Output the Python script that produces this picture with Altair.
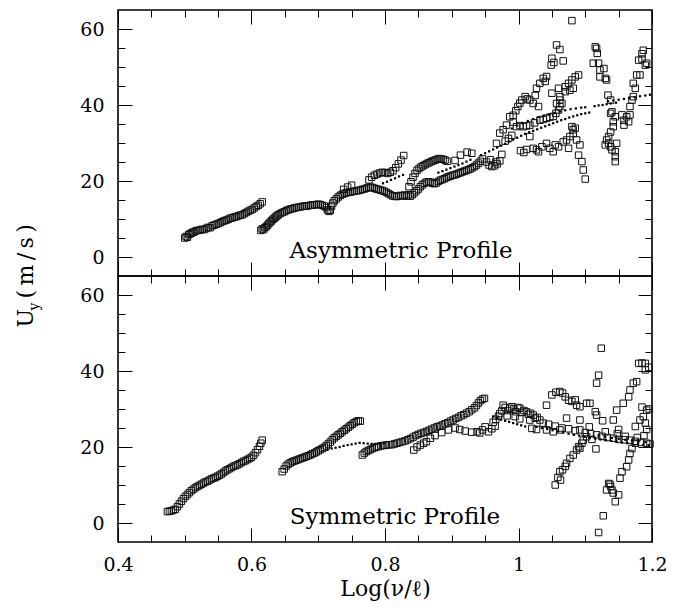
import altair as alt
import pandas as pd

# ---------------- data ----------------
# x = Log(nu/l), y = U_y (m/s)

# upper panel: Asymmetric Profile, open squares
top_sq_a = [(0.500,5.0),(0.502,5.4),(0.504,5.2),(0.506,5.9),(0.508,6.1),(0.510,6.3),(0.512,6.5),(0.514,6.6),
            (0.517,6.9),(0.520,7.0),(0.523,7.1),(0.526,7.3),(0.529,7.2),(0.532,7.5),(0.535,7.8),(0.538,7.7),
            (0.541,8.2),(0.544,8.4),(0.547,8.6),(0.550,8.8),(0.553,9.0),(0.556,9.3),(0.559,9.5),(0.562,9.7),
            (0.565,9.9),(0.568,10.2),(0.571,10.3),(0.574,10.5),(0.577,10.6),(0.580,10.8),(0.583,11.0),(0.586,11.1),
            (0.589,11.4),(0.592,11.7),(0.595,12.0),(0.598,12.3),(0.601,12.5),(0.604,12.9),(0.607,13.3),(0.610,13.6),
            (0.613,14.0),(0.616,14.5)]
top_sq_b = [(0.614,7.0),(0.616,7.4),(0.618,7.2),(0.620,7.7),(0.622,8.0),(0.624,8.4),(0.626,8.8),(0.628,9.2),
            (0.630,9.5),(0.632,9.9),(0.634,10.2),(0.636,10.5),(0.638,10.8),(0.640,11.1),(0.643,11.4),(0.646,11.7),
            (0.649,11.9),(0.652,12.2),(0.655,12.4),(0.658,12.6),(0.661,12.7),(0.664,12.9),(0.667,13.0),(0.670,13.1),
            (0.673,13.2),(0.676,13.3),(0.679,13.4),(0.682,13.4),(0.685,13.5),(0.688,13.6),(0.691,13.7),(0.694,13.7),
            (0.697,13.8),(0.700,13.9),(0.703,13.8),(0.706,13.6),(0.709,13.4),(0.712,13.0),(0.714,12.4),(0.716,12.0),
            (0.718,12.3),(0.720,13.4),(0.722,14.2),(0.724,14.8),(0.727,15.3),(0.730,15.8),(0.733,16.2),(0.736,16.5),
            (0.739,16.7),(0.742,16.9),(0.745,17.0),(0.748,17.1),(0.751,17.2),(0.754,17.3),(0.757,17.4),(0.760,17.5),
            (0.763,17.6),(0.766,17.8),(0.769,17.9),(0.772,18.1),(0.775,18.3),(0.778,18.4),(0.781,18.3),(0.784,18.1),
            (0.787,17.9),(0.790,17.8),(0.793,17.6),(0.796,17.5),(0.799,17.3),(0.802,17.0),(0.805,16.7),(0.808,16.4),
            (0.811,16.1),(0.814,16.0),(0.817,15.9),(0.820,16.0),(0.823,16.2),(0.826,16.1),(0.829,16.3),(0.832,16.0),
            (0.835,16.4),(0.738,17.8),(0.744,18.4),(0.750,18.9)]
top_sq_c = [(0.776,20.3),(0.780,21.0),(0.784,21.5),(0.788,21.8),(0.792,22.1),(0.796,22.3),(0.800,22.2),
            (0.804,22.0),(0.808,22.3),(0.812,22.7),(0.816,23.5),(0.820,24.5),(0.824,25.5),(0.828,26.7)]
top_sq_d = [(0.836,18.5),(0.839,19.8),(0.842,21.0),(0.845,22.0),(0.848,22.8),(0.851,23.3),(0.854,23.7),(0.857,24.0),
            (0.860,24.3),(0.863,24.6),(0.866,24.8),(0.869,25.1),(0.872,25.3),(0.875,25.5),(0.878,25.7),(0.881,25.9),
            (0.884,25.8),(0.887,25.7),(0.890,25.5),(0.893,25.2),
            (0.838,16.0),(0.841,16.4),(0.844,16.9),(0.847,17.4),(0.850,17.9),(0.853,18.5),(0.856,19.0),(0.859,19.4),
            (0.862,19.7),(0.865,19.8),(0.868,19.7),(0.871,19.4),(0.874,19.3),(0.877,19.5),(0.880,19.9),(0.883,20.2),
            (0.886,20.4),(0.889,20.6),(0.892,20.9),(0.895,21.1),(0.898,21.3),(0.901,21.5),(0.904,21.6),(0.907,21.8),
            (0.910,22.0),(0.913,22.2),(0.916,22.4),(0.919,22.6),(0.922,22.8),(0.925,23.0),(0.928,23.2),(0.931,23.5),
            (0.934,23.8),(0.937,24.2),(0.940,24.7),(0.943,25.2),(0.946,25.8),
            (0.905,25.4),(0.913,26.8),(0.923,27.6),(0.930,27.3),(0.952,25.0),(0.956,24.2),(0.960,23.8),(0.964,24.0),
            (0.968,24.5),(0.972,25.3),(0.958,25.6),(0.966,25.0),(0.975,27.0)]
top_sq_e = [(0.967,29.9),(0.972,32.6),(0.977,33.5),(0.982,34.7),(0.987,36.9),(0.992,37.3),(0.996,38.5),(0.999,39.6),
            (1.002,40.5),(1.005,41.3),(1.010,42.2),(1.013,41.6),(1.017,41.3),(1.022,40.4),(1.030,39.6),(1.025,42.5),
            (1.027,44.4),(1.032,45.7),(1.037,47.0),(1.042,47.5),(1.040,46.2),(1.049,50.5),(1.050,52.3),(1.057,55.8),
            (1.062,54.6),(1.067,51.6),(1.053,51.2),
            (0.992,35.5),(0.997,34.3),(1.002,34.6),(1.007,34.3),(1.012,34.5),(1.017,34.7),(1.024,35.3),(1.032,36.0),
            (1.037,36.2),(1.042,36.5),(1.047,36.8),(1.052,37.0),(1.056,37.8),(1.060,38.7),(1.062,39.6),(1.065,40.4),
            (1.057,40.4),(1.062,42.2),(1.050,43.1),
            (0.980,30.5),(0.985,31.2),(0.990,32.0),(1.017,31.7),(1.022,28.6),(1.027,28.2),(1.030,27.7),(1.035,29.0),
            (1.042,29.9),(1.047,28.6),(1.052,27.7),(1.055,29.5),(1.060,29.0),(1.067,30.3),(1.072,30.8),(1.075,28.6),
            (1.077,31.7),(1.082,32.5),(1.085,33.9),(1.087,30.8),(1.092,29.5),(1.090,26.8),(1.095,25.1),(1.097,22.9),
            (1.100,20.5),(1.082,33.5),(1.080,34.3),(1.003,28.0),(1.008,27.5),(1.012,28.3),
            (1.060,44.4),(1.070,44.8),(1.075,45.7),(1.080,46.6),(1.085,47.4),(1.090,47.9),(1.077,43.9),(1.082,44.4),
            (1.070,43.5),(1.062,41.3),(1.080,62.2)]
top_sq_f = [(1.115,55.3),(1.117,54.9),(1.118,53.6),(1.112,51.0),(1.120,51.0),(1.122,49.2),(1.128,49.6),(1.122,47.4),
            (1.130,47.0),(1.132,46.6),(1.134,42.6),(1.138,41.3),(1.140,38.2),(1.138,37.8),(1.145,36.9),(1.142,35.6),
            (1.142,34.3),(1.138,32.9),(1.135,31.7),(1.132,30.8),(1.130,29.5),(1.138,29.0),(1.140,28.2),(1.145,27.7),
            (1.147,29.9),(1.145,26.4),(1.145,25.1),(1.135,29.9),
            (1.155,37.4),(1.158,36.0),(1.162,36.9),(1.165,35.6),(1.158,34.7),(1.167,37.4),(1.167,39.6),(1.170,41.3),
            (1.172,42.2),(1.172,45.7),(1.177,47.9),(1.182,47.9),(1.180,51.8),(1.185,52.1),(1.187,54.4),(1.185,53.5),
            (1.190,50.5),(1.192,51.0),(1.175,44.4)]
# upper panel: small dots
top_dots = [(0.797,19.4),(0.803,19.8),(0.809,20.3),(0.815,20.7),(0.821,21.2),(0.827,21.6),
            (0.880,22.2),(0.886,22.6),(0.892,23.0),(0.898,23.4),(0.904,23.8),(0.910,24.2),(0.916,24.6),(0.922,25.1),
            (0.928,25.6),
            (0.944,26.8),(0.950,27.3),(0.956,27.8),(0.962,28.3),(0.968,28.8),(0.974,29.3),(0.980,29.8),(0.986,30.4),
            (0.992,30.9),(0.998,31.4),(1.004,31.9),(1.010,32.4),(1.016,32.8),(1.022,33.2),(1.028,33.6),(1.034,34.0),
            (1.040,34.4),(1.046,34.8),(1.052,35.2),(1.058,35.6),(1.064,36.0),(1.070,36.3),(1.076,36.7),(1.082,37.0),
            (1.088,37.3),(1.094,37.6),(1.100,37.8),(1.106,38.0),
            (0.990,33.8),(0.998,34.6),(1.006,35.2),(1.014,35.8),(1.022,36.3),(1.030,36.8),(1.038,37.2),(1.046,37.5),
            (1.054,37.9),(1.062,38.3),(1.070,38.6),(1.078,38.9),(1.086,39.1),(1.094,39.3),(1.100,39.4),
            (1.114,39.7),(1.120,39.9),(1.126,40.0),(1.132,40.2),(1.138,40.4),(1.146,40.6),
            (1.134,41.0),(1.142,41.2),(1.150,41.4),(1.158,41.6),(1.166,41.8),(1.174,42.1),(1.182,42.3),(1.190,42.5),
            (1.197,42.7)]

# lower panel: Symmetric Profile, open squares
bot_sq_a = [(0.474,3.0),(0.477,3.1),(0.480,3.2),(0.483,3.4),(0.486,3.6),(0.489,4.3),(0.492,5.0),(0.495,5.7),
            (0.498,6.4),(0.501,7.0),(0.504,7.5),(0.507,8.0),(0.510,8.5),(0.513,8.9),(0.516,9.3),(0.519,9.6),
            (0.522,9.9),(0.525,10.2),(0.528,10.5),(0.531,10.8),(0.534,11.0),(0.537,11.3),(0.540,11.6),(0.543,11.8),
            (0.546,12.0),(0.549,12.3),(0.552,12.6),(0.555,12.9),(0.558,13.3),(0.561,13.7),(0.564,14.0),(0.567,14.3),
            (0.570,14.6),(0.573,14.9),(0.576,15.1),(0.579,15.3),(0.582,15.6),(0.585,15.9),(0.588,16.2),(0.591,16.4),
            (0.594,16.7),(0.597,17.0),(0.600,17.3),(0.603,17.8),(0.606,18.5),(0.609,19.3),(0.612,20.2),(0.614,21.0),
            (0.616,21.8)]
bot_sq_b = [(0.646,13.5),(0.649,14.2),(0.652,15.0),(0.655,15.5),(0.658,15.8),(0.661,16.1),(0.664,16.3),(0.667,16.5),
            (0.670,16.7),(0.673,16.9),(0.676,17.1),(0.679,17.3),(0.682,17.5),(0.685,17.7),(0.688,17.9),(0.691,18.2),
            (0.694,18.4),(0.697,18.7),(0.700,19.0),(0.703,19.3),(0.706,19.6),(0.709,19.9),(0.712,20.3),(0.715,20.8),
            (0.718,21.3),(0.721,21.9),(0.724,22.4),(0.727,22.8),(0.730,23.2),(0.733,23.6),(0.736,24.0),(0.739,24.4),
            (0.742,24.8),(0.745,25.2),(0.748,25.6),(0.751,26.0),(0.754,26.4),(0.757,26.7),(0.760,26.9),(0.763,26.8)]
bot_sq_c = [(0.766,17.9),(0.769,18.4),(0.772,18.8),(0.775,19.1),(0.778,19.3),(0.781,19.6),(0.784,19.8),(0.787,20.0),
            (0.790,20.1),(0.794,20.3),(0.798,20.4),(0.802,20.5),(0.806,20.6),(0.810,20.6),(0.814,20.8),(0.818,21.0),
            (0.822,21.2),(0.826,21.4),(0.830,21.6),(0.834,21.9),(0.838,22.2),(0.842,22.6),(0.846,23.0),(0.850,23.3),
            (0.854,23.6),(0.858,23.8),(0.862,24.1),(0.866,24.4),(0.870,24.7),(0.874,25.0),(0.878,25.3),(0.882,25.5),
            (0.886,25.8),(0.890,26.1),(0.894,26.4),(0.898,26.8),(0.902,27.1),(0.906,27.5),(0.910,27.8),(0.914,28.2),
            (0.918,28.5),(0.922,28.9),(0.926,29.3),(0.930,29.8),(0.934,30.3),(0.937,30.9),(0.940,31.6),(0.943,32.2),
            (0.946,32.6),(0.949,32.8),
            (0.843,19.2),(0.848,20.0),(0.853,20.5),(0.858,21.0),(0.862,21.4),(0.868,22.3),(0.875,23.0),(0.885,23.8),
            (0.895,24.5),(0.905,25.0),(0.912,24.6),(0.920,24.2),(0.930,23.9),(0.938,24.0),(0.942,23.7),(0.946,24.5),
            (0.950,25.3),(0.955,24.0),(0.960,24.8),(0.965,25.5)]
bot_sq_d = [(0.962,26.5),(0.966,27.3),(0.970,28.1),(0.972,28.8),(0.975,29.5),(0.977,31.0),(0.980,30.4),(0.984,29.6),
            (0.987,30.2),(0.990,30.6),(0.993,30.0),(0.996,29.3),(0.999,30.4),(1.002,30.2),(1.005,29.1),(1.008,29.6),
            (1.012,29.3),(1.015,28.6),(1.018,28.9),(1.022,28.4),(1.025,27.6),(1.028,27.8),(1.032,27.1),(1.037,26.3),
            (1.017,27.1),(1.002,27.4),(1.020,24.9),(1.027,24.6),(1.042,24.5),(1.052,24.0),(1.062,24.5),(0.983,28.2),
            (0.995,28.0)]
bot_sq_e = [(1.042,31.0),(1.050,33.7),(1.056,34.4),(1.062,34.6),(1.066,34.2),(1.070,33.2),(1.075,32.3),(1.080,32.0),
            (1.085,32.4),(1.087,31.0),(1.092,30.6),(1.102,31.5),(1.107,31.5),(1.115,29.3),(1.117,28.4),(1.072,27.6),
            (1.092,27.1),
            (1.045,26.0),(1.055,25.5),(1.065,25.0),(1.075,24.8),(1.085,24.3),(1.092,24.5),(1.100,23.8),(1.108,23.5),
            (1.117,23.2),(1.125,22.8),(1.133,22.5),(1.142,22.3),(1.150,22.0),(1.158,21.9),(1.167,21.8),(1.175,21.5),
            (1.183,21.2),(1.192,21.0),(1.197,20.8),(1.110,22.0),(1.130,24.0),(1.148,23.5),(1.160,22.8),(1.178,22.5),
            (1.188,23.0),
            (1.055,10.0),(1.059,12.0),(1.063,11.3),(1.062,13.5),(1.066,14.0),(1.070,14.9),(1.072,15.7),(1.077,17.0),
            (1.082,17.9),(1.087,19.2),(1.090,20.1),(1.092,19.7),(1.095,21.0),(1.097,21.8),(1.102,22.7),(1.106,25.3),
            (1.124,46.0),(1.120,38.9),(1.117,36.8),(1.127,1.9),(1.120,-2.5),(1.116,19.5),(1.126,26.9),
            (1.135,10.4),(1.138,9.6),(1.140,8.7),(1.142,7.9),(1.145,5.6),(1.150,7.4),(1.152,11.8),(1.155,13.5),
            (1.162,14.8),(1.165,16.6),(1.167,18.3),(1.170,19.6),(1.175,21.0),(1.132,8.7),(1.137,10.2),
            (1.157,31.5),(1.165,33.2),(1.167,35.0),(1.172,36.8),(1.177,37.2),(1.180,42.0),(1.185,42.1),(1.190,42.0),
            (1.190,40.3),(1.187,28.0),(1.190,26.3),(1.192,29.7),(1.182,27.1),(1.175,25.4),(1.192,24.6),(1.147,29.7),
            (1.142,27.1),(1.150,24.6),(1.195,41.0),(1.196,30.0),(1.185,30.5)]
# lower panel: small dots
bot_dots = [(0.714,19.3),(0.720,19.6),(0.726,19.8),(0.732,20.0),(0.738,20.3),(0.744,20.5),(0.750,20.7),(0.756,20.9),
            (0.762,21.1),(0.768,21.0),(0.774,20.9),(0.780,20.8),(0.786,20.8),(0.792,20.9),(0.798,21.0),
            (0.962,28.0),(0.968,27.6),(0.974,27.2),(0.980,26.9),(0.986,26.6),(0.992,26.3),(0.998,26.0),(1.004,25.7),
            (1.010,25.4),
            (1.027,25.3),(1.035,25.0),(1.043,24.7),(1.051,24.4),(1.059,24.1),(1.067,23.8),(1.075,23.5),(1.083,23.2),
            (1.091,23.0),(1.099,22.7),(1.107,22.5),(1.115,22.2),(1.123,22.0),(1.131,21.8),(1.139,21.6),(1.147,21.4),
            (1.155,21.2),(1.163,21.0),(1.171,20.9),(1.179,20.7),(1.187,20.6),(1.195,20.5),
            (1.120,23.0),(1.130,22.7),(1.140,22.4),(1.150,22.1),(1.160,21.9),(1.170,21.7),(1.180,21.5),(1.190,21.3)]

panel_labels = ["Asymmetric Profile", "Symmetric Profile"]
label_x = [0.824, 0.815]
label_y = [-0.3, -0.3]

x_major = [0.4, 0.6, 0.8, 1.0, 1.2]
x_minor = [0.45, 0.5, 0.55, 0.65, 0.7, 0.75, 0.85, 0.9, 0.95, 1.05, 1.1, 1.15]
y_major = [0, 20, 40, 60]
y_minor = [5, 10, 15, 25, 30, 35, 45, 50, 55]

# ---------------- chart ----------------
W, H = 534, 266
FONT = "DejaVu Serif"
VIEW = alt.ViewBackground(stroke="black", strokeWidth=1.6, strokeOpacity=1)


def frame(*groups):
    pts = [p for g in groups for p in g]
    return pd.DataFrame({"x": [p[0] for p in pts], "y": [p[1] for p in pts]})


def xsc():
    return alt.Scale(domain=[0.4, 1.2], nice=False, zero=False)


def ysc():
    return alt.Scale(domain=[-5, 65], nice=False, zero=False)


def bare(**kw):
    d = dict(grid=False, domain=False, labels=False, ticks=False, title=None,
             tickColor="black", tickWidth=1, tickOpacity=1)
    d.update(kw)
    return alt.Axis(**d)


def tick_layer(data, xorient, yorient, xvals, yvals, size):
    return alt.Chart(data).mark_point(opacity=0).encode(
        x=alt.X("x:Q", scale=xsc(), axis=bare(orient=xorient, offset=-H, values=xvals, ticks=True, tickSize=size)),
        y=alt.Y("y:Q", scale=ysc(), axis=bare(orient=yorient, offset=-W, values=yvals, ticks=True, tickSize=size)),
    )


def title_layer(data, text, tx, ty, fs):
    return alt.Chart(data).mark_point(opacity=0).encode(
        x=alt.X("x:Q", scale=xsc(), axis=None),
        y=alt.Y("y:Q", scale=ysc(), axis=bare(orient="left", title=text, titleX=tx, titleY=ty, titleAngle=270,
                                              titleAlign="left", titleBaseline="alphabetic", titleFontSize=fs,
                                              titleFont=FONT, titleFontWeight="normal", titleColor="black")),
    )


def panel(sq, dots, idx, bottom):
    if bottom:
        xaxis = alt.Axis(orient="bottom", values=x_major, format="~g", labelFlush=False, ticks=False,
                         domain=False, grid=False, labelFont=FONT, labelFontSize=19, labelColor="black",
                         labelPadding=13, title="Log(ν/ℓ)", titleFont=FONT, titleFontSize=22,
                         titleFontWeight="normal", titleColor="black", titlePadding=4)
    else:
        xaxis = None
    ykw = dict(orient="left", values=y_major, ticks=False, domain=False, grid=False, labelFont=FONT,
               labelFontSize=19, labelColor="black", labelPadding=14)
    if not bottom:
        ykw.update(title="(\u2009m\u2009/\u2009s\u2009)", titleX=-86, titleY=288, titleAngle=270,
                   titleAlign="left", titleBaseline="alphabetic", titleFont=FONT, titleFontSize=22,
                   titleFontWeight="normal", titleColor="black")
    else:
        ykw.update(title=None)
    yaxis = alt.Axis(**ykw)

    squares = alt.Chart(sq).mark_point(shape="square", filled=False, size=42, color="#111",
                                       strokeWidth=1, opacity=1).encode(
        x=alt.X("x:Q", scale=xsc(), axis=xaxis),
        y=alt.Y("y:Q", scale=ysc(), axis=yaxis),
    )
    dts = alt.Chart(dots).mark_point(shape="square", filled=True, size=5, color="black", opacity=1).encode(
        x=alt.X("x:Q", scale=xsc(), axis=bare(orient="top", offset=-H, values=x_major, ticks=True, tickSize=14)),
        y=alt.Y("y:Q", scale=ysc(), axis=bare(orient="right", offset=-W, values=y_major, ticks=True, tickSize=14)),
    )
    layers = [
        squares,
        dts,
        tick_layer(sq, "top", "right", x_minor, y_minor, 7),
        tick_layer(sq, "bottom", "left", x_major, y_major, 14),
        tick_layer(sq, "bottom", "left", x_minor, y_minor, 7),
    ]
    if not bottom:
        layers.append(title_layer(sq, "U", -86, 317, 22))
        layers.append(title_layer(sq, "y", -80, 300, 14))
    lab = pd.DataFrame({"x": [label_x[idx]], "y": [label_y[idx]], "t": [panel_labels[idx]]})
    layers.append(
        alt.Chart(lab).mark_text(font=FONT, fontSize=23, align="center", baseline="alphabetic",
                                 color="black").encode(
            x=alt.X("x:Q", scale=xsc(), axis=None),
            y=alt.Y("y:Q", scale=ysc(), axis=None),
            text="t:N",
        )
    )
    return alt.layer(*layers).resolve_scale(x="independent", y="independent").properties(
        width=W, height=H, view=VIEW)


top = panel(frame(top_sq_a, top_sq_b, top_sq_c, top_sq_d, top_sq_e, top_sq_f), frame(top_dots), 0, False)
bot = panel(frame(bot_sq_a, bot_sq_b, bot_sq_c, bot_sq_d, bot_sq_e), frame(bot_dots), 1, True)

chart = alt.vconcat(top, bot, spacing=0, bounds="flush").resolve_scale(
    x="independent", y="independent"
).properties(
    padding={"top": 0, "left": 5, "right": 5, "bottom": 2}
).configure_view(stroke="black", strokeWidth=1.6).configure(background="white")

chart.save("out.html", embed_options={"renderer": "svg", "actions": False})
